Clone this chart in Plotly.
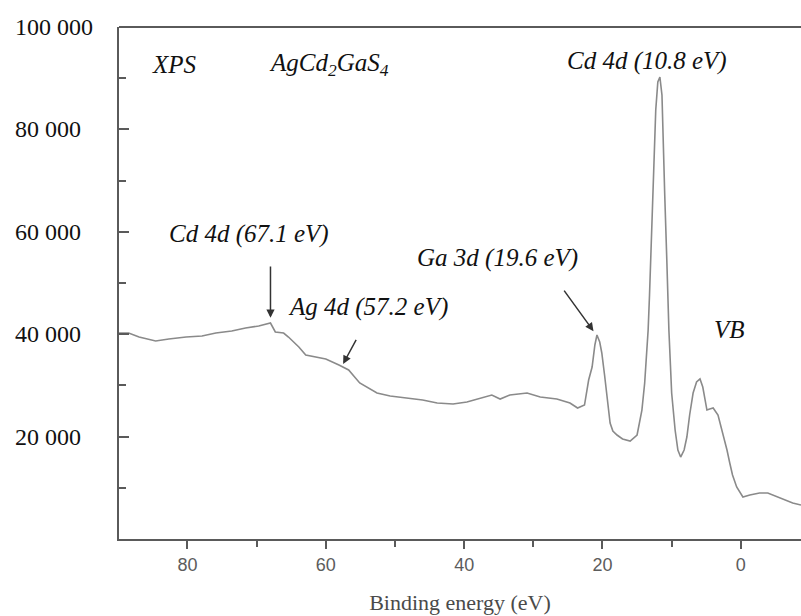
import plotly.graph_objects as go

# XPS survey spectrum of AgCd2GaS4 (binding energy in eV, intensity in counts)
binding_energy = [
    89.9, 88.5, 87.0, 84.6, 82.7, 80.2, 77.9, 75.9, 73.6, 71.6, 69.7, 68.0, 67.3, 66.1,
    65.4, 63.9, 62.9, 61.4, 60.0, 58.1, 56.7, 55.1, 52.6, 50.7, 48.3, 46.0, 43.9, 41.6,
    39.6, 37.7, 36.0, 34.8, 33.4, 30.9, 29.0, 26.6, 24.7, 23.6, 22.6, 22.0, 21.5, 21.1,
    20.8, 20.4, 20.1, 19.7, 19.4, 18.9, 18.5, 17.9, 17.1, 16.0, 15.0, 14.3, 13.9, 13.4,
    13.2, 12.7, 12.3, 12.0, 11.7, 11.4, 11.3, 11.0, 10.7, 10.4, 10.0, 9.5, 9.1, 8.7,
    8.2, 7.8, 7.4, 6.9, 6.4, 5.9, 5.5, 4.9, 4.5, 4.0, 3.3, 2.6, 2.0, 1.6, 1.2, 0.6,
    -0.3, -1.3, -2.7, -3.9, -5.6, -7.5, -8.7,
]
intensity = [
    40230, 40230, 39450, 38670, 39060, 39450, 39650, 40230, 40620, 41210, 41600, 42180, 40430, 40230,
    39450, 37500, 35940, 35550, 35150, 33980, 33010, 30470, 28510, 27930, 27540, 27150, 26560, 26370,
    26760, 27540, 28120, 27340, 28120, 28510, 27730, 27340, 26560, 25580, 26170, 31050, 33590, 37890,
    39840, 38470, 36330, 32030, 28510, 22650, 21090, 20310, 19530, 19140, 20310, 25190, 30470, 40820,
    47650, 67570, 83780, 89250, 90230, 86710, 80460, 67180, 54490, 40820, 28510, 21290, 17380, 16010,
    17380, 19920, 24220, 28510, 30660, 31250, 29690, 25190, 25390, 25580, 24220, 20700, 17380, 14840, 12500, 10160,
    8200, 8590, 8980, 8980, 8010, 7030, 6640,
]

y_tick_values = [20000, 40000, 60000, 80000, 100000]
y_tick_labels = ["20 000", "40 000", "60 000", "80 000", "100 000"]
x_tick_values = [80, 60, 40, 20, 0]

# Peak labels: (text, left x, y) and arrows: (tail x, tail y, tip x, tip y)
peak_labels = [
    ("<i>XPS</i>", 85.4, 92600),
    ("<i>AgCd<sub>2</sub>GaS<sub>4</sub></i>", 68.5, 92600),
    ("<i>Cd 4d (10.8 eV)</i>", 25.4, 93300),
    ("<i>Cd 4d (67.1 eV)</i>", 83.0, 59600),
    ("<i>Ga 3d (19.6 eV)</i>", 47.1, 54900),
    ("<i>Ag 4d (57.2 eV)</i>", 65.8, 45300),
    ("<i>VB</i>", 4.2, 41000),
]
peak_arrows = [
    (68.0, 53500, 68.0, 43200),
    (55.5, 39200, 57.5, 34200),
    (25.7, 48800, 21.3, 40600),
]

SERIF = "Liberation Serif, Times New Roman, serif"
AXIS_COLOR = "#5a5a5a"

fig = go.Figure()
fig.add_trace(go.Scatter(
    x=binding_energy, y=intensity, mode="lines",
    line=dict(color="#8a8a8a", width=1.6), showlegend=False, hoverinfo="skip",
))

annotations = []
for text, x, y in peak_labels:
    annotations.append(dict(
        x=x, y=y, xref="x", yref="y", text=text, showarrow=False,
        xanchor="left", yanchor="middle",
        font=dict(family=SERIF, size=25, color="#111111"),
    ))
for ax, ay, x, y in peak_arrows:
    annotations.append(dict(
        x=x, y=y, ax=ax, ay=ay, xref="x", yref="y", axref="x", ayref="y",
        text="", showarrow=True, arrowhead=2, arrowsize=1.1, arrowwidth=1.5,
        arrowcolor="#333333", standoff=0, startstandoff=0,
    ))
# Y tick labels, left aligned beside the axis
for val, lab in zip(y_tick_values, y_tick_labels):
    annotations.append(dict(
        x=-0.155, y=val, xref="paper", yref="y", text=lab, showarrow=False,
        xanchor="left", yanchor="middle",
        font=dict(family=SERIF, size=24, color="#111111"),
    ))

fig.update_layout(
    width=801, height=616,
    margin=dict(l=119, r=0, t=27, b=77),
    paper_bgcolor="white", plot_bgcolor="white",
    annotations=annotations,
    shapes=[dict(type="line", xref="paper", yref="paper", x0=0, x1=1, y0=1, y1=1,
                 line=dict(color=AXIS_COLOR, width=2))],
    xaxis=dict(
        range=[89.9, -8.7], showgrid=False, zeroline=False,
        showline=True, linecolor=AXIS_COLOR, linewidth=2,
        tickmode="array", tickvals=x_tick_values,
        ticks="outside", ticklen=8, tickwidth=1.5, tickcolor=AXIS_COLOR,
        tickfont=dict(family="Liberation Sans", size=18, color="#5c5c5c"),
        minor=dict(tickmode="array", tickvals=[70, 50, 30, 10], ticks="outside",
                   ticklen=6, tickwidth=1.5, tickcolor=AXIS_COLOR),
        title=dict(text="Binding energy (eV)", standoff=21,
                   font=dict(family=SERIF, size=22, color="#4a4a4a")),
    ),
    yaxis=dict(
        range=[0, 100000], showgrid=False, zeroline=False,
        showline=True, linecolor=AXIS_COLOR, linewidth=2,
        tickmode="array", tickvals=y_tick_values, showticklabels=False,
        ticks="inside", ticklen=10, tickwidth=1.5, tickcolor=AXIS_COLOR,
        minor=dict(tickmode="array", tickvals=[10000, 30000, 50000, 70000, 90000],
                   ticks="inside", ticklen=7, tickwidth=1.5, tickcolor=AXIS_COLOR),
    ),
)

fig.write_html("out.html")
